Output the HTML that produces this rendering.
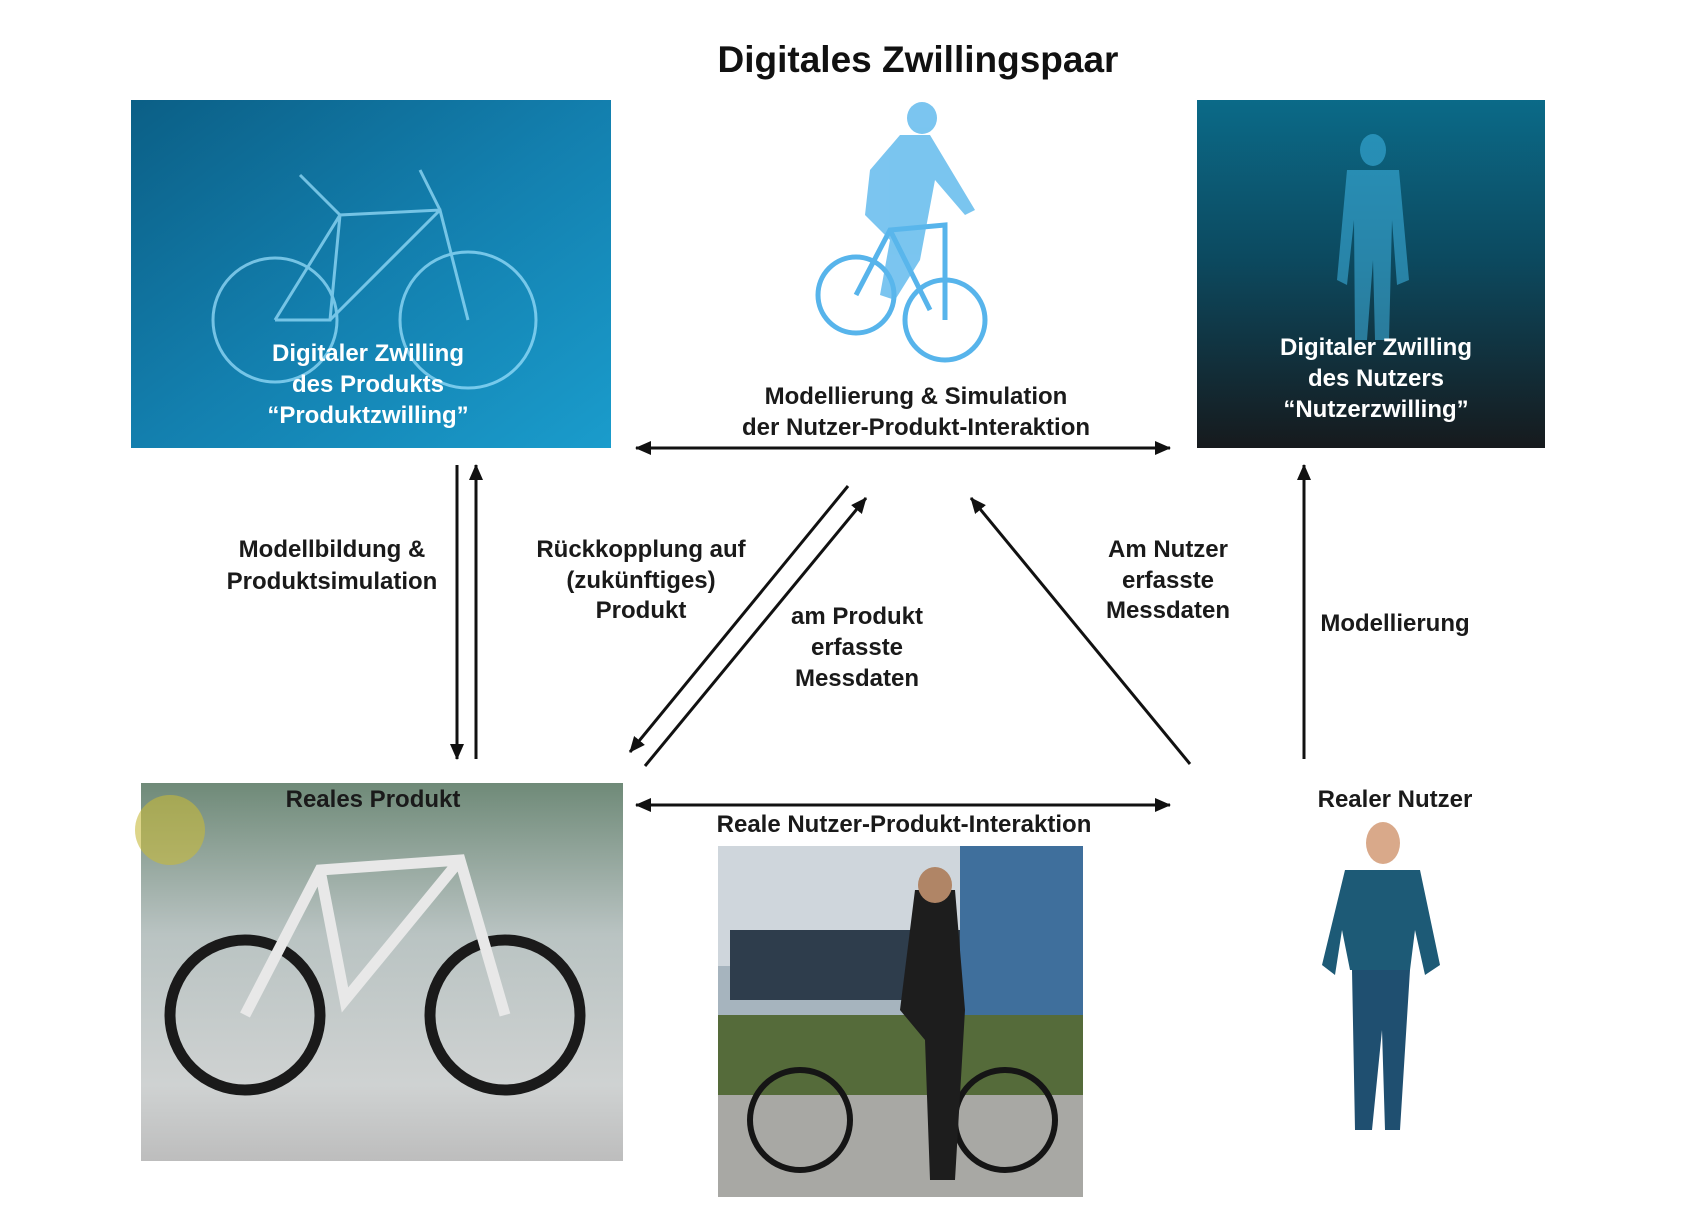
<!DOCTYPE html>
<html><head><meta charset="utf-8"><style>
html,body{margin:0;padding:0;background:#fff;}
body{width:1696px;height:1225px;position:relative;overflow:hidden;font-family:"Liberation Sans",Arial,sans-serif;}
svg{position:absolute;left:0;top:0;}
</style></head><body>
<svg width="1696" height="1225" viewBox="0 0 1696 1225">
<defs>
<linearGradient id="g1" x1="0" y1="0" x2="1" y2="1"><stop offset="0" stop-color="#0b5f86"/><stop offset="0.5" stop-color="#137fae"/><stop offset="1" stop-color="#1a9ccc"/></linearGradient>
<linearGradient id="g2" x1="0" y1="0" x2="0" y2="1"><stop offset="0" stop-color="#0b6a88"/><stop offset="0.45" stop-color="#0c4a60"/><stop offset="1" stop-color="#161a1d"/></linearGradient>
<linearGradient id="g3" x1="0" y1="0" x2="0" y2="1"><stop offset="0" stop-color="#6f8a78"/><stop offset="0.4" stop-color="#b9c3c2"/><stop offset="0.8" stop-color="#cfd2d2"/><stop offset="1" stop-color="#bdbdbd"/></linearGradient>
<marker id="ah2" markerWidth="16" markerHeight="14" refX="15" refY="7" orient="auto" markerUnits="userSpaceOnUse"><path d="M0,0 L16,7 L0,14 z" fill="#111"/></marker>
</defs>
<rect x="131" y="100" width="480" height="348" fill="url(#g1)"/>
<g stroke="#9fe3ff" stroke-width="3" fill="none" opacity="0.7">
<circle cx="275" cy="320" r="62"/><circle cx="468" cy="320" r="68"/>
<path d="M275 320 L340 215 L440 210 L468 320 M340 215 L330 320 L275 320 M330 320 L440 210 M300 175 L340 215 M420 170 L440 210"/>
</g>
<rect x="1197" y="100" width="348" height="348" fill="url(#g2)"/>
<g fill="#3fb6e6" opacity="0.55"><ellipse cx="1373" cy="150" rx="13" ry="16"/><path d="M1347 170 L1399 170 L1409 280 L1397 285 L1392 220 L1389 340 L1375 340 L1373 260 L1367 340 L1355 340 L1354 220 L1347 285 L1337 280 z"/></g>
<g stroke="#3aa8e8" stroke-width="5" fill="none" opacity="0.85">
<circle cx="856" cy="295" r="38"/><circle cx="945" cy="320" r="40"/>
<path d="M856 295 L890 230 L945 225 L945 320 M890 230 L930 310"/></g>
<g fill="#5ab7ec" opacity="0.8"><ellipse cx="922" cy="118" rx="15" ry="16"/><path d="M900 135 L930 135 L975 210 L965 215 L935 180 L920 260 L895 300 L880 295 L890 240 L865 215 L870 170 z"/></g>
<rect x="141" y="783" width="482" height="378" fill="url(#g3)"/>
<circle cx="170" cy="830" r="35" fill="#c7b93a" opacity="0.6"/>
<g stroke="#1a1a1a" stroke-width="11" fill="none"><circle cx="245" cy="1015" r="75"/><circle cx="505" cy="1015" r="75"/></g>
<path d="M245 1015 L320 870 L460 860 L505 1015 M320 870 L345 1000 L460 860" stroke="#e8e8e8" stroke-width="11" fill="none"/>
<rect x="718" y="846" width="365" height="351" fill="#a6b4be"/>
<rect x="718" y="846" width="365" height="120" fill="#cfd6dc"/>
<rect x="960" y="846" width="123" height="175" fill="#3f6f9c"/>
<rect x="730" y="930" width="230" height="70" fill="#2e3d4c"/>
<rect x="718" y="1015" width="365" height="80" fill="#556b3a"/>
<rect x="718" y="1095" width="365" height="102" fill="#a8a8a4"/>
<g stroke="#151515" stroke-width="6" fill="none"><circle cx="800" cy="1120" r="50"/><circle cx="1005" cy="1120" r="50"/></g>
<path d="M915 890 L955 890 L965 1010 L955 1180 L930 1180 L925 1040 L900 1010 z" fill="#1d1d1d"/><ellipse cx="935" cy="885" rx="17" ry="18" fill="#b08566"/>
<ellipse cx="1383" cy="843" rx="17" ry="21" fill="#d9a98a"/>
<path d="M1345 870 L1420 870 L1440 965 L1425 975 L1415 930 L1410 970 L1350 970 L1342 930 L1335 975 L1322 965 z" fill="#1d5a76"/>
<path d="M1352 970 L1410 970 L1400 1130 L1385 1130 L1382 1030 L1372 1130 L1355 1130 z" fill="#1f4f70"/>
<g stroke="#111" stroke-width="3" fill="none">
<line x1="636" y1="448" x2="1170" y2="448" marker-end="url(#ah2)"/>
<line x1="1170" y1="448" x2="636" y2="448" marker-end="url(#ah2)"/>
<line x1="636" y1="805" x2="1170" y2="805" marker-end="url(#ah2)"/>
<line x1="1170" y1="805" x2="636" y2="805" marker-end="url(#ah2)"/>
<line x1="457" y1="465" x2="457" y2="759" marker-end="url(#ah2)"/>
<line x1="476" y1="759" x2="476" y2="465" marker-end="url(#ah2)"/>
<line x1="848" y1="486" x2="630" y2="752" marker-end="url(#ah2)"/>
<line x1="645" y1="766" x2="866" y2="498" marker-end="url(#ah2)"/>
<line x1="1190" y1="764" x2="971" y2="498" marker-end="url(#ah2)"/>
<line x1="1304" y1="759" x2="1304" y2="465" marker-end="url(#ah2)"/>
</g>
<g font-family="Liberation Sans, Arial, sans-serif" font-weight="bold" text-anchor="middle">
<text x="918" y="72" font-size="37" fill="#111">Digitales Zwillingspaar</text>
<g font-size="24" fill="#fff">
<text x="368" y="361">Digitaler Zwilling</text><text x="368" y="392">des Produkts</text><text x="368" y="423">“Produktzwilling”</text>
<text x="1376" y="355">Digitaler Zwilling</text><text x="1376" y="386">des Nutzers</text><text x="1376" y="417">“Nutzerzwilling”</text>
</g>
<g font-size="24" fill="#1a1a1a">
<text x="916" y="404">Modellierung &amp; Simulation</text><text x="916" y="435">der Nutzer-Produkt-Interaktion</text>
<text x="332" y="557">Modellbildung &amp;</text><text x="332" y="589">Produktsimulation</text>
<text x="641" y="557">Rückkopplung auf</text><text x="641" y="588">(zukünftiges)</text><text x="641" y="618">Produkt</text>
<text x="857" y="624">am Produkt</text><text x="857" y="655">erfasste</text><text x="857" y="686">Messdaten</text>
<text x="1168" y="557">Am Nutzer</text><text x="1168" y="588">erfasste</text><text x="1168" y="618">Messdaten</text>
<text x="1395" y="631">Modellierung</text>
<text x="373" y="807">Reales Produkt</text>
<text x="1395" y="807">Realer Nutzer</text>
<text x="904" y="832">Reale Nutzer-Produkt-Interaktion</text>
</g>
</g>
</svg>
</body></html>
